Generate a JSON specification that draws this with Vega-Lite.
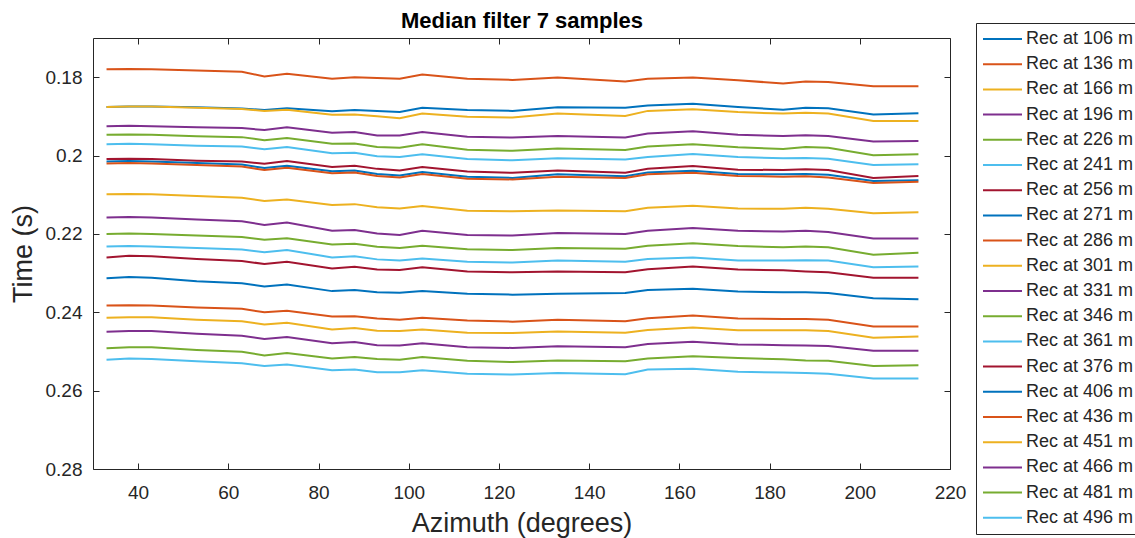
{
  "$schema": "https://vega.github.io/schema/vega-lite/v6.json",
  "width": 857,
  "height": 431,
  "autosize": "none",
  "padding": {"left": 93, "top": 38, "right": 185, "bottom": 69},
  "background": "white",
  "config": {
    "font": "Liberation Sans",
    "view": {"stroke": "#262626", "strokeWidth": 1},
    "axis": {"grid": false, "domain": false, "tickColor": "#262626", "tickWidth": 1, "labelColor": "#262626", "titleColor": "#262626", "labelFont": "Liberation Sans", "titleFont": "Liberation Sans", "titleFontWeight": "normal"}
  },
  "data": {"values": [
{"azimuth":33,"time":0.1876,"rec":"Rec at 106 m"},{"azimuth":38,"time":0.1875,"rec":"Rec at 106 m"},{"azimuth":43,"time":0.1875,"rec":"Rec at 106 m"},{"azimuth":53,"time":0.1877,"rec":"Rec at 106 m"},{"azimuth":63,"time":0.1880,"rec":"Rec at 106 m"},{"azimuth":68,"time":0.1884,"rec":"Rec at 106 m"},{"azimuth":73,"time":0.1879,"rec":"Rec at 106 m"},{"azimuth":83,"time":0.1887,"rec":"Rec at 106 m"},{"azimuth":88,"time":0.1884,"rec":"Rec at 106 m"},{"azimuth":93,"time":0.1886,"rec":"Rec at 106 m"},{"azimuth":98,"time":0.1889,"rec":"Rec at 106 m"},{"azimuth":103,"time":0.1878,"rec":"Rec at 106 m"},{"azimuth":113,"time":0.1884,"rec":"Rec at 106 m"},{"azimuth":123,"time":0.1886,"rec":"Rec at 106 m"},{"azimuth":133,"time":0.1877,"rec":"Rec at 106 m"},{"azimuth":148,"time":0.1878,"rec":"Rec at 106 m"},{"azimuth":153,"time":0.1872,"rec":"Rec at 106 m"},{"azimuth":163,"time":0.1868,"rec":"Rec at 106 m"},{"azimuth":173,"time":0.1876,"rec":"Rec at 106 m"},{"azimuth":183,"time":0.1883,"rec":"Rec at 106 m"},{"azimuth":188,"time":0.1878,"rec":"Rec at 106 m"},{"azimuth":193,"time":0.1879,"rec":"Rec at 106 m"},{"azimuth":203,"time":0.1895,"rec":"Rec at 106 m"},{"azimuth":213,"time":0.1892,"rec":"Rec at 106 m"},
{"azimuth":33,"time":0.1780,"rec":"Rec at 136 m"},{"azimuth":38,"time":0.1779,"rec":"Rec at 136 m"},{"azimuth":43,"time":0.1780,"rec":"Rec at 136 m"},{"azimuth":53,"time":0.1783,"rec":"Rec at 136 m"},{"azimuth":63,"time":0.1786,"rec":"Rec at 136 m"},{"azimuth":68,"time":0.1798,"rec":"Rec at 136 m"},{"azimuth":73,"time":0.1791,"rec":"Rec at 136 m"},{"azimuth":83,"time":0.1804,"rec":"Rec at 136 m"},{"azimuth":88,"time":0.1800,"rec":"Rec at 136 m"},{"azimuth":93,"time":0.1802,"rec":"Rec at 136 m"},{"azimuth":98,"time":0.1804,"rec":"Rec at 136 m"},{"azimuth":103,"time":0.1793,"rec":"Rec at 136 m"},{"azimuth":113,"time":0.1804,"rec":"Rec at 136 m"},{"azimuth":123,"time":0.1807,"rec":"Rec at 136 m"},{"azimuth":133,"time":0.1801,"rec":"Rec at 136 m"},{"azimuth":148,"time":0.1811,"rec":"Rec at 136 m"},{"azimuth":153,"time":0.1804,"rec":"Rec at 136 m"},{"azimuth":163,"time":0.1801,"rec":"Rec at 136 m"},{"azimuth":173,"time":0.1808,"rec":"Rec at 136 m"},{"azimuth":183,"time":0.1816,"rec":"Rec at 136 m"},{"azimuth":188,"time":0.1811,"rec":"Rec at 136 m"},{"azimuth":193,"time":0.1812,"rec":"Rec at 136 m"},{"azimuth":203,"time":0.1823,"rec":"Rec at 136 m"},{"azimuth":213,"time":0.1823,"rec":"Rec at 136 m"},
{"azimuth":33,"time":0.1876,"rec":"Rec at 166 m"},{"azimuth":38,"time":0.1875,"rec":"Rec at 166 m"},{"azimuth":43,"time":0.1875,"rec":"Rec at 166 m"},{"azimuth":53,"time":0.1878,"rec":"Rec at 166 m"},{"azimuth":63,"time":0.1881,"rec":"Rec at 166 m"},{"azimuth":68,"time":0.1886,"rec":"Rec at 166 m"},{"azimuth":73,"time":0.1883,"rec":"Rec at 166 m"},{"azimuth":83,"time":0.1896,"rec":"Rec at 166 m"},{"azimuth":88,"time":0.1895,"rec":"Rec at 166 m"},{"azimuth":93,"time":0.1900,"rec":"Rec at 166 m"},{"azimuth":98,"time":0.1905,"rec":"Rec at 166 m"},{"azimuth":103,"time":0.1893,"rec":"Rec at 166 m"},{"azimuth":113,"time":0.1901,"rec":"Rec at 166 m"},{"azimuth":123,"time":0.1903,"rec":"Rec at 166 m"},{"azimuth":133,"time":0.1893,"rec":"Rec at 166 m"},{"azimuth":148,"time":0.1899,"rec":"Rec at 166 m"},{"azimuth":153,"time":0.1886,"rec":"Rec at 166 m"},{"azimuth":163,"time":0.1882,"rec":"Rec at 166 m"},{"azimuth":173,"time":0.1889,"rec":"Rec at 166 m"},{"azimuth":183,"time":0.1893,"rec":"Rec at 166 m"},{"azimuth":188,"time":0.1891,"rec":"Rec at 166 m"},{"azimuth":193,"time":0.1893,"rec":"Rec at 166 m"},{"azimuth":203,"time":0.1912,"rec":"Rec at 166 m"},{"azimuth":213,"time":0.1912,"rec":"Rec at 166 m"},
{"azimuth":33,"time":0.1925,"rec":"Rec at 196 m"},{"azimuth":38,"time":0.1924,"rec":"Rec at 196 m"},{"azimuth":43,"time":0.1925,"rec":"Rec at 196 m"},{"azimuth":53,"time":0.1928,"rec":"Rec at 196 m"},{"azimuth":63,"time":0.1930,"rec":"Rec at 196 m"},{"azimuth":68,"time":0.1935,"rec":"Rec at 196 m"},{"azimuth":73,"time":0.1928,"rec":"Rec at 196 m"},{"azimuth":83,"time":0.1942,"rec":"Rec at 196 m"},{"azimuth":88,"time":0.1940,"rec":"Rec at 196 m"},{"azimuth":93,"time":0.1949,"rec":"Rec at 196 m"},{"azimuth":98,"time":0.1949,"rec":"Rec at 196 m"},{"azimuth":103,"time":0.1940,"rec":"Rec at 196 m"},{"azimuth":113,"time":0.1952,"rec":"Rec at 196 m"},{"azimuth":123,"time":0.1954,"rec":"Rec at 196 m"},{"azimuth":133,"time":0.1950,"rec":"Rec at 196 m"},{"azimuth":148,"time":0.1954,"rec":"Rec at 196 m"},{"azimuth":153,"time":0.1944,"rec":"Rec at 196 m"},{"azimuth":163,"time":0.1938,"rec":"Rec at 196 m"},{"azimuth":173,"time":0.1947,"rec":"Rec at 196 m"},{"azimuth":183,"time":0.1950,"rec":"Rec at 196 m"},{"azimuth":188,"time":0.1948,"rec":"Rec at 196 m"},{"azimuth":193,"time":0.1950,"rec":"Rec at 196 m"},{"azimuth":203,"time":0.1964,"rec":"Rec at 196 m"},{"azimuth":213,"time":0.1963,"rec":"Rec at 196 m"},
{"azimuth":33,"time":0.1947,"rec":"Rec at 226 m"},{"azimuth":38,"time":0.1946,"rec":"Rec at 226 m"},{"azimuth":43,"time":0.1947,"rec":"Rec at 226 m"},{"azimuth":53,"time":0.1951,"rec":"Rec at 226 m"},{"azimuth":63,"time":0.1953,"rec":"Rec at 226 m"},{"azimuth":68,"time":0.1961,"rec":"Rec at 226 m"},{"azimuth":73,"time":0.1955,"rec":"Rec at 226 m"},{"azimuth":83,"time":0.1970,"rec":"Rec at 226 m"},{"azimuth":88,"time":0.1969,"rec":"Rec at 226 m"},{"azimuth":93,"time":0.1978,"rec":"Rec at 226 m"},{"azimuth":98,"time":0.1980,"rec":"Rec at 226 m"},{"azimuth":103,"time":0.1971,"rec":"Rec at 226 m"},{"azimuth":113,"time":0.1985,"rec":"Rec at 226 m"},{"azimuth":123,"time":0.1988,"rec":"Rec at 226 m"},{"azimuth":133,"time":0.1982,"rec":"Rec at 226 m"},{"azimuth":148,"time":0.1986,"rec":"Rec at 226 m"},{"azimuth":153,"time":0.1977,"rec":"Rec at 226 m"},{"azimuth":163,"time":0.1971,"rec":"Rec at 226 m"},{"azimuth":173,"time":0.1979,"rec":"Rec at 226 m"},{"azimuth":183,"time":0.1983,"rec":"Rec at 226 m"},{"azimuth":188,"time":0.1978,"rec":"Rec at 226 m"},{"azimuth":193,"time":0.1980,"rec":"Rec at 226 m"},{"azimuth":203,"time":0.1999,"rec":"Rec at 226 m"},{"azimuth":213,"time":0.1997,"rec":"Rec at 226 m"},
{"azimuth":33,"time":0.1971,"rec":"Rec at 241 m"},{"azimuth":38,"time":0.1970,"rec":"Rec at 241 m"},{"azimuth":43,"time":0.1971,"rec":"Rec at 241 m"},{"azimuth":53,"time":0.1975,"rec":"Rec at 241 m"},{"azimuth":63,"time":0.1977,"rec":"Rec at 241 m"},{"azimuth":68,"time":0.1984,"rec":"Rec at 241 m"},{"azimuth":73,"time":0.1978,"rec":"Rec at 241 m"},{"azimuth":83,"time":0.1994,"rec":"Rec at 241 m"},{"azimuth":88,"time":0.1993,"rec":"Rec at 241 m"},{"azimuth":93,"time":0.2002,"rec":"Rec at 241 m"},{"azimuth":98,"time":0.2004,"rec":"Rec at 241 m"},{"azimuth":103,"time":0.1997,"rec":"Rec at 241 m"},{"azimuth":113,"time":0.2009,"rec":"Rec at 241 m"},{"azimuth":123,"time":0.2012,"rec":"Rec at 241 m"},{"azimuth":133,"time":0.2007,"rec":"Rec at 241 m"},{"azimuth":148,"time":0.2010,"rec":"Rec at 241 m"},{"azimuth":153,"time":0.2004,"rec":"Rec at 241 m"},{"azimuth":163,"time":0.1996,"rec":"Rec at 241 m"},{"azimuth":173,"time":0.2004,"rec":"Rec at 241 m"},{"azimuth":183,"time":0.2007,"rec":"Rec at 241 m"},{"azimuth":188,"time":0.2006,"rec":"Rec at 241 m"},{"azimuth":193,"time":0.2008,"rec":"Rec at 241 m"},{"azimuth":203,"time":0.2024,"rec":"Rec at 241 m"},{"azimuth":213,"time":0.2022,"rec":"Rec at 241 m"},
{"azimuth":33,"time":0.2009,"rec":"Rec at 256 m"},{"azimuth":38,"time":0.2008,"rec":"Rec at 256 m"},{"azimuth":43,"time":0.2009,"rec":"Rec at 256 m"},{"azimuth":53,"time":0.2013,"rec":"Rec at 256 m"},{"azimuth":63,"time":0.2015,"rec":"Rec at 256 m"},{"azimuth":68,"time":0.2021,"rec":"Rec at 256 m"},{"azimuth":73,"time":0.2014,"rec":"Rec at 256 m"},{"azimuth":83,"time":0.2029,"rec":"Rec at 256 m"},{"azimuth":88,"time":0.2026,"rec":"Rec at 256 m"},{"azimuth":93,"time":0.2034,"rec":"Rec at 256 m"},{"azimuth":98,"time":0.2038,"rec":"Rec at 256 m"},{"azimuth":103,"time":0.2029,"rec":"Rec at 256 m"},{"azimuth":113,"time":0.2041,"rec":"Rec at 256 m"},{"azimuth":123,"time":0.2044,"rec":"Rec at 256 m"},{"azimuth":133,"time":0.2038,"rec":"Rec at 256 m"},{"azimuth":148,"time":0.2044,"rec":"Rec at 256 m"},{"azimuth":153,"time":0.2034,"rec":"Rec at 256 m"},{"azimuth":163,"time":0.2027,"rec":"Rec at 256 m"},{"azimuth":173,"time":0.2036,"rec":"Rec at 256 m"},{"azimuth":183,"time":0.2037,"rec":"Rec at 256 m"},{"azimuth":188,"time":0.2035,"rec":"Rec at 256 m"},{"azimuth":193,"time":0.2037,"rec":"Rec at 256 m"},{"azimuth":203,"time":0.2057,"rec":"Rec at 256 m"},{"azimuth":213,"time":0.2052,"rec":"Rec at 256 m"},
{"azimuth":33,"time":0.2015,"rec":"Rec at 271 m"},{"azimuth":38,"time":0.2014,"rec":"Rec at 271 m"},{"azimuth":43,"time":0.2015,"rec":"Rec at 271 m"},{"azimuth":53,"time":0.2019,"rec":"Rec at 271 m"},{"azimuth":63,"time":0.2023,"rec":"Rec at 271 m"},{"azimuth":68,"time":0.2032,"rec":"Rec at 271 m"},{"azimuth":73,"time":0.2026,"rec":"Rec at 271 m"},{"azimuth":83,"time":0.2040,"rec":"Rec at 271 m"},{"azimuth":88,"time":0.2038,"rec":"Rec at 271 m"},{"azimuth":93,"time":0.2047,"rec":"Rec at 271 m"},{"azimuth":98,"time":0.2051,"rec":"Rec at 271 m"},{"azimuth":103,"time":0.2042,"rec":"Rec at 271 m"},{"azimuth":113,"time":0.2054,"rec":"Rec at 271 m"},{"azimuth":123,"time":0.2057,"rec":"Rec at 271 m"},{"azimuth":133,"time":0.2048,"rec":"Rec at 271 m"},{"azimuth":148,"time":0.2053,"rec":"Rec at 271 m"},{"azimuth":153,"time":0.2043,"rec":"Rec at 271 m"},{"azimuth":163,"time":0.2039,"rec":"Rec at 271 m"},{"azimuth":173,"time":0.2047,"rec":"Rec at 271 m"},{"azimuth":183,"time":0.2048,"rec":"Rec at 271 m"},{"azimuth":188,"time":0.2047,"rec":"Rec at 271 m"},{"azimuth":193,"time":0.2049,"rec":"Rec at 271 m"},{"azimuth":203,"time":0.2065,"rec":"Rec at 271 m"},{"azimuth":213,"time":0.2063,"rec":"Rec at 271 m"},
{"azimuth":33,"time":0.2020,"rec":"Rec at 286 m"},{"azimuth":38,"time":0.2019,"rec":"Rec at 286 m"},{"azimuth":43,"time":0.2020,"rec":"Rec at 286 m"},{"azimuth":53,"time":0.2024,"rec":"Rec at 286 m"},{"azimuth":63,"time":0.2028,"rec":"Rec at 286 m"},{"azimuth":68,"time":0.2037,"rec":"Rec at 286 m"},{"azimuth":73,"time":0.2031,"rec":"Rec at 286 m"},{"azimuth":83,"time":0.2045,"rec":"Rec at 286 m"},{"azimuth":88,"time":0.2043,"rec":"Rec at 286 m"},{"azimuth":93,"time":0.2052,"rec":"Rec at 286 m"},{"azimuth":98,"time":0.2056,"rec":"Rec at 286 m"},{"azimuth":103,"time":0.2047,"rec":"Rec at 286 m"},{"azimuth":113,"time":0.2059,"rec":"Rec at 286 m"},{"azimuth":123,"time":0.2061,"rec":"Rec at 286 m"},{"azimuth":133,"time":0.2054,"rec":"Rec at 286 m"},{"azimuth":148,"time":0.2057,"rec":"Rec at 286 m"},{"azimuth":153,"time":0.2048,"rec":"Rec at 286 m"},{"azimuth":163,"time":0.2044,"rec":"Rec at 286 m"},{"azimuth":173,"time":0.2052,"rec":"Rec at 286 m"},{"azimuth":183,"time":0.2054,"rec":"Rec at 286 m"},{"azimuth":188,"time":0.2053,"rec":"Rec at 286 m"},{"azimuth":193,"time":0.2056,"rec":"Rec at 286 m"},{"azimuth":203,"time":0.2070,"rec":"Rec at 286 m"},{"azimuth":213,"time":0.2067,"rec":"Rec at 286 m"},
{"azimuth":33,"time":0.2099,"rec":"Rec at 301 m"},{"azimuth":38,"time":0.2098,"rec":"Rec at 301 m"},{"azimuth":43,"time":0.2099,"rec":"Rec at 301 m"},{"azimuth":53,"time":0.2103,"rec":"Rec at 301 m"},{"azimuth":63,"time":0.2108,"rec":"Rec at 301 m"},{"azimuth":68,"time":0.2116,"rec":"Rec at 301 m"},{"azimuth":73,"time":0.2112,"rec":"Rec at 301 m"},{"azimuth":83,"time":0.2126,"rec":"Rec at 301 m"},{"azimuth":88,"time":0.2124,"rec":"Rec at 301 m"},{"azimuth":93,"time":0.2132,"rec":"Rec at 301 m"},{"azimuth":98,"time":0.2135,"rec":"Rec at 301 m"},{"azimuth":103,"time":0.2129,"rec":"Rec at 301 m"},{"azimuth":113,"time":0.2141,"rec":"Rec at 301 m"},{"azimuth":123,"time":0.2142,"rec":"Rec at 301 m"},{"azimuth":133,"time":0.2140,"rec":"Rec at 301 m"},{"azimuth":148,"time":0.2142,"rec":"Rec at 301 m"},{"azimuth":153,"time":0.2133,"rec":"Rec at 301 m"},{"azimuth":163,"time":0.2128,"rec":"Rec at 301 m"},{"azimuth":173,"time":0.2135,"rec":"Rec at 301 m"},{"azimuth":183,"time":0.2136,"rec":"Rec at 301 m"},{"azimuth":188,"time":0.2133,"rec":"Rec at 301 m"},{"azimuth":193,"time":0.2136,"rec":"Rec at 301 m"},{"azimuth":203,"time":0.2147,"rec":"Rec at 301 m"},{"azimuth":213,"time":0.2145,"rec":"Rec at 301 m"},
{"azimuth":33,"time":0.2158,"rec":"Rec at 331 m"},{"azimuth":38,"time":0.2157,"rec":"Rec at 331 m"},{"azimuth":43,"time":0.2158,"rec":"Rec at 331 m"},{"azimuth":53,"time":0.2163,"rec":"Rec at 331 m"},{"azimuth":63,"time":0.2168,"rec":"Rec at 331 m"},{"azimuth":68,"time":0.2177,"rec":"Rec at 331 m"},{"azimuth":73,"time":0.2171,"rec":"Rec at 331 m"},{"azimuth":83,"time":0.2192,"rec":"Rec at 331 m"},{"azimuth":88,"time":0.2190,"rec":"Rec at 331 m"},{"azimuth":93,"time":0.2199,"rec":"Rec at 331 m"},{"azimuth":98,"time":0.2203,"rec":"Rec at 331 m"},{"azimuth":103,"time":0.2192,"rec":"Rec at 331 m"},{"azimuth":113,"time":0.2203,"rec":"Rec at 331 m"},{"azimuth":123,"time":0.2204,"rec":"Rec at 331 m"},{"azimuth":133,"time":0.2198,"rec":"Rec at 331 m"},{"azimuth":148,"time":0.2200,"rec":"Rec at 331 m"},{"azimuth":153,"time":0.2192,"rec":"Rec at 331 m"},{"azimuth":163,"time":0.2185,"rec":"Rec at 331 m"},{"azimuth":173,"time":0.2192,"rec":"Rec at 331 m"},{"azimuth":183,"time":0.2194,"rec":"Rec at 331 m"},{"azimuth":188,"time":0.2192,"rec":"Rec at 331 m"},{"azimuth":193,"time":0.2195,"rec":"Rec at 331 m"},{"azimuth":203,"time":0.2212,"rec":"Rec at 331 m"},{"azimuth":213,"time":0.2212,"rec":"Rec at 331 m"},
{"azimuth":33,"time":0.2200,"rec":"Rec at 346 m"},{"azimuth":38,"time":0.2199,"rec":"Rec at 346 m"},{"azimuth":43,"time":0.2200,"rec":"Rec at 346 m"},{"azimuth":53,"time":0.2204,"rec":"Rec at 346 m"},{"azimuth":63,"time":0.2208,"rec":"Rec at 346 m"},{"azimuth":68,"time":0.2215,"rec":"Rec at 346 m"},{"azimuth":73,"time":0.2211,"rec":"Rec at 346 m"},{"azimuth":83,"time":0.2227,"rec":"Rec at 346 m"},{"azimuth":88,"time":0.2225,"rec":"Rec at 346 m"},{"azimuth":93,"time":0.2233,"rec":"Rec at 346 m"},{"azimuth":98,"time":0.2236,"rec":"Rec at 346 m"},{"azimuth":103,"time":0.2230,"rec":"Rec at 346 m"},{"azimuth":113,"time":0.2239,"rec":"Rec at 346 m"},{"azimuth":123,"time":0.2241,"rec":"Rec at 346 m"},{"azimuth":133,"time":0.2236,"rec":"Rec at 346 m"},{"azimuth":148,"time":0.2238,"rec":"Rec at 346 m"},{"azimuth":153,"time":0.2230,"rec":"Rec at 346 m"},{"azimuth":163,"time":0.2224,"rec":"Rec at 346 m"},{"azimuth":173,"time":0.2231,"rec":"Rec at 346 m"},{"azimuth":183,"time":0.2234,"rec":"Rec at 346 m"},{"azimuth":188,"time":0.2232,"rec":"Rec at 346 m"},{"azimuth":193,"time":0.2234,"rec":"Rec at 346 m"},{"azimuth":203,"time":0.2253,"rec":"Rec at 346 m"},{"azimuth":213,"time":0.2248,"rec":"Rec at 346 m"},
{"azimuth":33,"time":0.2232,"rec":"Rec at 361 m"},{"azimuth":38,"time":0.2231,"rec":"Rec at 361 m"},{"azimuth":43,"time":0.2232,"rec":"Rec at 361 m"},{"azimuth":53,"time":0.2236,"rec":"Rec at 361 m"},{"azimuth":63,"time":0.2240,"rec":"Rec at 361 m"},{"azimuth":68,"time":0.2247,"rec":"Rec at 361 m"},{"azimuth":73,"time":0.2241,"rec":"Rec at 361 m"},{"azimuth":83,"time":0.2260,"rec":"Rec at 361 m"},{"azimuth":88,"time":0.2257,"rec":"Rec at 361 m"},{"azimuth":93,"time":0.2265,"rec":"Rec at 361 m"},{"azimuth":98,"time":0.2268,"rec":"Rec at 361 m"},{"azimuth":103,"time":0.2263,"rec":"Rec at 361 m"},{"azimuth":113,"time":0.2271,"rec":"Rec at 361 m"},{"azimuth":123,"time":0.2273,"rec":"Rec at 361 m"},{"azimuth":133,"time":0.2268,"rec":"Rec at 361 m"},{"azimuth":148,"time":0.2271,"rec":"Rec at 361 m"},{"azimuth":153,"time":0.2264,"rec":"Rec at 361 m"},{"azimuth":163,"time":0.2260,"rec":"Rec at 361 m"},{"azimuth":173,"time":0.2268,"rec":"Rec at 361 m"},{"azimuth":183,"time":0.2268,"rec":"Rec at 361 m"},{"azimuth":188,"time":0.2267,"rec":"Rec at 361 m"},{"azimuth":193,"time":0.2268,"rec":"Rec at 361 m"},{"azimuth":203,"time":0.2285,"rec":"Rec at 361 m"},{"azimuth":213,"time":0.2283,"rec":"Rec at 361 m"},
{"azimuth":33,"time":0.2260,"rec":"Rec at 376 m"},{"azimuth":38,"time":0.2256,"rec":"Rec at 376 m"},{"azimuth":43,"time":0.2257,"rec":"Rec at 376 m"},{"azimuth":53,"time":0.2264,"rec":"Rec at 376 m"},{"azimuth":63,"time":0.2269,"rec":"Rec at 376 m"},{"azimuth":68,"time":0.2277,"rec":"Rec at 376 m"},{"azimuth":73,"time":0.2271,"rec":"Rec at 376 m"},{"azimuth":83,"time":0.2288,"rec":"Rec at 376 m"},{"azimuth":88,"time":0.2284,"rec":"Rec at 376 m"},{"azimuth":93,"time":0.2291,"rec":"Rec at 376 m"},{"azimuth":98,"time":0.2292,"rec":"Rec at 376 m"},{"azimuth":103,"time":0.2285,"rec":"Rec at 376 m"},{"azimuth":113,"time":0.2296,"rec":"Rec at 376 m"},{"azimuth":123,"time":0.2298,"rec":"Rec at 376 m"},{"azimuth":133,"time":0.2296,"rec":"Rec at 376 m"},{"azimuth":148,"time":0.2298,"rec":"Rec at 376 m"},{"azimuth":153,"time":0.2290,"rec":"Rec at 376 m"},{"azimuth":163,"time":0.2283,"rec":"Rec at 376 m"},{"azimuth":173,"time":0.2291,"rec":"Rec at 376 m"},{"azimuth":183,"time":0.2293,"rec":"Rec at 376 m"},{"azimuth":188,"time":0.2296,"rec":"Rec at 376 m"},{"azimuth":193,"time":0.2298,"rec":"Rec at 376 m"},{"azimuth":203,"time":0.2312,"rec":"Rec at 376 m"},{"azimuth":213,"time":0.2312,"rec":"Rec at 376 m"},
{"azimuth":33,"time":0.2313,"rec":"Rec at 406 m"},{"azimuth":38,"time":0.2310,"rec":"Rec at 406 m"},{"azimuth":43,"time":0.2312,"rec":"Rec at 406 m"},{"azimuth":53,"time":0.2321,"rec":"Rec at 406 m"},{"azimuth":63,"time":0.2326,"rec":"Rec at 406 m"},{"azimuth":68,"time":0.2334,"rec":"Rec at 406 m"},{"azimuth":73,"time":0.2329,"rec":"Rec at 406 m"},{"azimuth":83,"time":0.2346,"rec":"Rec at 406 m"},{"azimuth":88,"time":0.2343,"rec":"Rec at 406 m"},{"azimuth":93,"time":0.2349,"rec":"Rec at 406 m"},{"azimuth":98,"time":0.2350,"rec":"Rec at 406 m"},{"azimuth":103,"time":0.2346,"rec":"Rec at 406 m"},{"azimuth":113,"time":0.2353,"rec":"Rec at 406 m"},{"azimuth":123,"time":0.2355,"rec":"Rec at 406 m"},{"azimuth":133,"time":0.2353,"rec":"Rec at 406 m"},{"azimuth":148,"time":0.2351,"rec":"Rec at 406 m"},{"azimuth":153,"time":0.2343,"rec":"Rec at 406 m"},{"azimuth":163,"time":0.2340,"rec":"Rec at 406 m"},{"azimuth":173,"time":0.2347,"rec":"Rec at 406 m"},{"azimuth":183,"time":0.2349,"rec":"Rec at 406 m"},{"azimuth":188,"time":0.2349,"rec":"Rec at 406 m"},{"azimuth":193,"time":0.2351,"rec":"Rec at 406 m"},{"azimuth":203,"time":0.2364,"rec":"Rec at 406 m"},{"azimuth":213,"time":0.2367,"rec":"Rec at 406 m"},
{"azimuth":33,"time":0.2383,"rec":"Rec at 436 m"},{"azimuth":38,"time":0.2382,"rec":"Rec at 436 m"},{"azimuth":43,"time":0.2383,"rec":"Rec at 436 m"},{"azimuth":53,"time":0.2388,"rec":"Rec at 436 m"},{"azimuth":63,"time":0.2391,"rec":"Rec at 436 m"},{"azimuth":68,"time":0.2400,"rec":"Rec at 436 m"},{"azimuth":73,"time":0.2396,"rec":"Rec at 436 m"},{"azimuth":83,"time":0.2411,"rec":"Rec at 436 m"},{"azimuth":88,"time":0.2410,"rec":"Rec at 436 m"},{"azimuth":93,"time":0.2416,"rec":"Rec at 436 m"},{"azimuth":98,"time":0.2419,"rec":"Rec at 436 m"},{"azimuth":103,"time":0.2414,"rec":"Rec at 436 m"},{"azimuth":113,"time":0.2421,"rec":"Rec at 436 m"},{"azimuth":123,"time":0.2424,"rec":"Rec at 436 m"},{"azimuth":133,"time":0.2419,"rec":"Rec at 436 m"},{"azimuth":148,"time":0.2423,"rec":"Rec at 436 m"},{"azimuth":153,"time":0.2415,"rec":"Rec at 436 m"},{"azimuth":163,"time":0.2408,"rec":"Rec at 436 m"},{"azimuth":173,"time":0.2416,"rec":"Rec at 436 m"},{"azimuth":183,"time":0.2417,"rec":"Rec at 436 m"},{"azimuth":188,"time":0.2417,"rec":"Rec at 436 m"},{"azimuth":193,"time":0.2419,"rec":"Rec at 436 m"},{"azimuth":203,"time":0.2436,"rec":"Rec at 436 m"},{"azimuth":213,"time":0.2436,"rec":"Rec at 436 m"},
{"azimuth":33,"time":0.2414,"rec":"Rec at 451 m"},{"azimuth":38,"time":0.2413,"rec":"Rec at 451 m"},{"azimuth":43,"time":0.2413,"rec":"Rec at 451 m"},{"azimuth":53,"time":0.2419,"rec":"Rec at 451 m"},{"azimuth":63,"time":0.2423,"rec":"Rec at 451 m"},{"azimuth":68,"time":0.2431,"rec":"Rec at 451 m"},{"azimuth":73,"time":0.2427,"rec":"Rec at 451 m"},{"azimuth":83,"time":0.2444,"rec":"Rec at 451 m"},{"azimuth":88,"time":0.2440,"rec":"Rec at 451 m"},{"azimuth":93,"time":0.2447,"rec":"Rec at 451 m"},{"azimuth":98,"time":0.2448,"rec":"Rec at 451 m"},{"azimuth":103,"time":0.2444,"rec":"Rec at 451 m"},{"azimuth":113,"time":0.2452,"rec":"Rec at 451 m"},{"azimuth":123,"time":0.2453,"rec":"Rec at 451 m"},{"azimuth":133,"time":0.2449,"rec":"Rec at 451 m"},{"azimuth":148,"time":0.2452,"rec":"Rec at 451 m"},{"azimuth":153,"time":0.2445,"rec":"Rec at 451 m"},{"azimuth":163,"time":0.2439,"rec":"Rec at 451 m"},{"azimuth":173,"time":0.2446,"rec":"Rec at 451 m"},{"azimuth":183,"time":0.2446,"rec":"Rec at 451 m"},{"azimuth":188,"time":0.2446,"rec":"Rec at 451 m"},{"azimuth":193,"time":0.2448,"rec":"Rec at 451 m"},{"azimuth":203,"time":0.2465,"rec":"Rec at 451 m"},{"azimuth":213,"time":0.2462,"rec":"Rec at 451 m"},
{"azimuth":33,"time":0.2450,"rec":"Rec at 466 m"},{"azimuth":38,"time":0.2448,"rec":"Rec at 466 m"},{"azimuth":43,"time":0.2448,"rec":"Rec at 466 m"},{"azimuth":53,"time":0.2455,"rec":"Rec at 466 m"},{"azimuth":63,"time":0.2460,"rec":"Rec at 466 m"},{"azimuth":68,"time":0.2468,"rec":"Rec at 466 m"},{"azimuth":73,"time":0.2463,"rec":"Rec at 466 m"},{"azimuth":83,"time":0.2479,"rec":"Rec at 466 m"},{"azimuth":88,"time":0.2476,"rec":"Rec at 466 m"},{"azimuth":93,"time":0.2484,"rec":"Rec at 466 m"},{"azimuth":98,"time":0.2485,"rec":"Rec at 466 m"},{"azimuth":103,"time":0.2479,"rec":"Rec at 466 m"},{"azimuth":113,"time":0.2489,"rec":"Rec at 466 m"},{"azimuth":123,"time":0.2491,"rec":"Rec at 466 m"},{"azimuth":133,"time":0.2487,"rec":"Rec at 466 m"},{"azimuth":148,"time":0.2489,"rec":"Rec at 466 m"},{"azimuth":153,"time":0.2481,"rec":"Rec at 466 m"},{"azimuth":163,"time":0.2475,"rec":"Rec at 466 m"},{"azimuth":173,"time":0.2482,"rec":"Rec at 466 m"},{"azimuth":183,"time":0.2484,"rec":"Rec at 466 m"},{"azimuth":188,"time":0.2485,"rec":"Rec at 466 m"},{"azimuth":193,"time":0.2486,"rec":"Rec at 466 m"},{"azimuth":203,"time":0.2498,"rec":"Rec at 466 m"},{"azimuth":213,"time":0.2498,"rec":"Rec at 466 m"},
{"azimuth":33,"time":0.2492,"rec":"Rec at 481 m"},{"azimuth":38,"time":0.2489,"rec":"Rec at 481 m"},{"azimuth":43,"time":0.2489,"rec":"Rec at 481 m"},{"azimuth":53,"time":0.2496,"rec":"Rec at 481 m"},{"azimuth":63,"time":0.2501,"rec":"Rec at 481 m"},{"azimuth":68,"time":0.2510,"rec":"Rec at 481 m"},{"azimuth":73,"time":0.2504,"rec":"Rec at 481 m"},{"azimuth":83,"time":0.2518,"rec":"Rec at 481 m"},{"azimuth":88,"time":0.2514,"rec":"Rec at 481 m"},{"azimuth":93,"time":0.2519,"rec":"Rec at 481 m"},{"azimuth":98,"time":0.2521,"rec":"Rec at 481 m"},{"azimuth":103,"time":0.2514,"rec":"Rec at 481 m"},{"azimuth":113,"time":0.2524,"rec":"Rec at 481 m"},{"azimuth":123,"time":0.2527,"rec":"Rec at 481 m"},{"azimuth":133,"time":0.2523,"rec":"Rec at 481 m"},{"azimuth":148,"time":0.2525,"rec":"Rec at 481 m"},{"azimuth":153,"time":0.2518,"rec":"Rec at 481 m"},{"azimuth":163,"time":0.2512,"rec":"Rec at 481 m"},{"azimuth":173,"time":0.2517,"rec":"Rec at 481 m"},{"azimuth":183,"time":0.2520,"rec":"Rec at 481 m"},{"azimuth":188,"time":0.2523,"rec":"Rec at 481 m"},{"azimuth":193,"time":0.2524,"rec":"Rec at 481 m"},{"azimuth":203,"time":0.2537,"rec":"Rec at 481 m"},{"azimuth":213,"time":0.2535,"rec":"Rec at 481 m"},
{"azimuth":33,"time":0.2521,"rec":"Rec at 496 m"},{"azimuth":38,"time":0.2518,"rec":"Rec at 496 m"},{"azimuth":43,"time":0.2519,"rec":"Rec at 496 m"},{"azimuth":53,"time":0.2525,"rec":"Rec at 496 m"},{"azimuth":63,"time":0.2530,"rec":"Rec at 496 m"},{"azimuth":68,"time":0.2537,"rec":"Rec at 496 m"},{"azimuth":73,"time":0.2533,"rec":"Rec at 496 m"},{"azimuth":83,"time":0.2548,"rec":"Rec at 496 m"},{"azimuth":88,"time":0.2546,"rec":"Rec at 496 m"},{"azimuth":93,"time":0.2553,"rec":"Rec at 496 m"},{"azimuth":98,"time":0.2553,"rec":"Rec at 496 m"},{"azimuth":103,"time":0.2548,"rec":"Rec at 496 m"},{"azimuth":113,"time":0.2557,"rec":"Rec at 496 m"},{"azimuth":123,"time":0.2559,"rec":"Rec at 496 m"},{"azimuth":133,"time":0.2555,"rec":"Rec at 496 m"},{"azimuth":148,"time":0.2558,"rec":"Rec at 496 m"},{"azimuth":153,"time":0.2546,"rec":"Rec at 496 m"},{"azimuth":163,"time":0.2544,"rec":"Rec at 496 m"},{"azimuth":173,"time":0.2552,"rec":"Rec at 496 m"},{"azimuth":183,"time":0.2554,"rec":"Rec at 496 m"},{"azimuth":188,"time":0.2555,"rec":"Rec at 496 m"},{"azimuth":193,"time":0.2557,"rec":"Rec at 496 m"},{"azimuth":203,"time":0.2569,"rec":"Rec at 496 m"},{"azimuth":213,"time":0.2569,"rec":"Rec at 496 m"}
  ]},
  "layer": [
    {
      "mark": {"type": "line", "strokeWidth": 2},
      "encoding": {
        "x": {"field": "azimuth", "type": "quantitative",
              "scale": {"domain": [30, 220], "nice": false, "zero": false},
              "axis": {"orient": "bottom", "values": [40, 60, 80, 100, 120, 140, 160, 180, 200, 220], "tickSize": -6, "labelPadding": 20, "labelFontSize": 19, "labelFlush": false, "title": "Azimuth (degrees)", "titleFontSize": 27, "titlePadding": 8}},
        "y": {"field": "time", "type": "quantitative",
              "scale": {"domain": [0.17, 0.28], "reverse": true, "nice": false, "zero": false},
              "axis": {"orient": "left", "values": [0.18, 0.2, 0.22, 0.24, 0.26, 0.28], "format": "~g", "tickSize": -6, "labelPadding": 17, "labelFontSize": 19, "labelFlush": false, "title": "Time (s)", "titleFontSize": 27, "titlePadding": 8}},
        "color": {"field": "rec", "type": "nominal",
                  "scale": {"domain": ["Rec at 106 m","Rec at 136 m","Rec at 166 m","Rec at 196 m","Rec at 226 m","Rec at 241 m","Rec at 256 m","Rec at 271 m","Rec at 286 m","Rec at 301 m","Rec at 331 m","Rec at 346 m","Rec at 361 m","Rec at 376 m","Rec at 406 m","Rec at 436 m","Rec at 451 m","Rec at 466 m","Rec at 481 m","Rec at 496 m"],
                            "range": ["#0072BD","#D95319","#EDB120","#7E2F8E","#77AC30","#4DBEEE","#A2142F","#0072BD","#D95319","#EDB120","#7E2F8E","#77AC30","#4DBEEE","#A2142F","#0072BD","#D95319","#EDB120","#7E2F8E","#77AC30","#4DBEEE"]},
                  "legend": {"orient": "none", "legendX": 883, "legendY": -15, "title": null, "symbolType": "M-2.6,0H2.6", "symbolSize": 225, "symbolStrokeWidth": 2, "symbolOffset": 10.5, "labelOffset": 14.5, "labelFontSize": 18, "labelColor": "#262626", "labelFont": "Liberation Sans", "labelLimit": 200, "rowPadding": 7.2, "padding": 7, "strokeColor": "#262626", "fillColor": "white"}}
      }
    },
    {
      "mark": {"type": "line", "opacity": 0},
      "encoding": {
        "x": {"field": "azimuth", "type": "quantitative",
              "axis": {"orient": "top", "values": [40, 60, 80, 100, 120, 140, 160, 180, 200, 220], "tickSize": -6, "labels": false, "title": "Median filter 7 samples", "titleFontSize": 22, "titleFontWeight": "bold", "titleColor": "#000000", "titleBaseline": "alphabetic", "titlePadding": 10}},
        "y": {"field": "time", "type": "quantitative",
              "axis": {"orient": "right", "values": [0.18, 0.2, 0.22, 0.24, 0.26, 0.28], "tickSize": -6, "labels": false, "title": null}},
        "detail": {"field": "rec", "type": "nominal"}
      }
    }
  ],
  "resolve": {"axis": {"x": "independent", "y": "independent"}}
}
